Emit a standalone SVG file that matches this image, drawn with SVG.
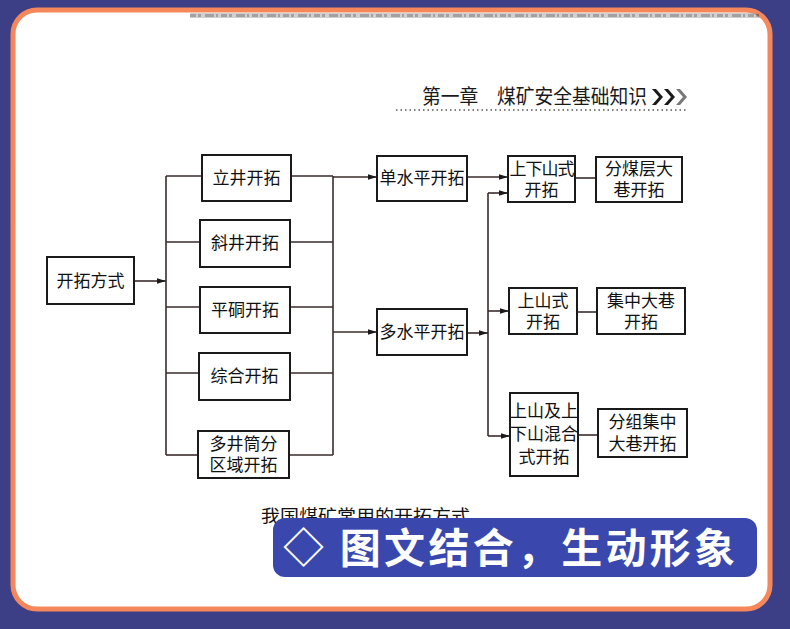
<svg xmlns="http://www.w3.org/2000/svg" width="790" height="629" viewBox="0 0 790 629">
<defs>
<style>
.box{fill:#fff;stroke:#1a1a1a;stroke-width:2}
.ln{fill:none;stroke:#3a2b2b;stroke-width:1.6}
.t{font-family:"Noto Sans CJK SC","Noto Sans CJK TC",sans-serif;font-size:17px;fill:#111;text-anchor:middle}
</style>
<marker id="ah" markerWidth="10" markerHeight="8" refX="9" refY="4" orient="auto" markerUnits="userSpaceOnUse">
<path d="M0,1.2 L9,4 L0,6.8 Z" fill="#1a1a1a"/>
</marker>
</defs>
<rect x="0" y="0" width="790" height="629" fill="#3d3f86"/>
<rect x="13" y="10" width="757" height="599" rx="24" fill="#fff" stroke="#f5875a" stroke-width="5"/>
<g id="scan-noise" opacity="0.45">
<rect x="190" y="13" width="570" height="5" fill="#999"/>
<line x1="190" y1="15.5" x2="760" y2="15.5" stroke="#333" stroke-width="3" stroke-dasharray="6 2 3 4 9 2 2 3"/>
</g>
<g id="header">
<text x="422" y="104" style="font-family:'Noto Sans CJK SC',sans-serif;font-size:20px;fill:#1a1a1a" textLength="225" lengthAdjust="spacingAndGlyphs">第一章　煤矿安全基础知识</text>
<path d="M652,89 L659,97 L652,105 L656,105 L663,97 L656,89 Z" fill="#1a1a1a"/>
<path d="M664,89 L671,97 L664,105 L668,105 L675,97 L668,89 Z" fill="#1a1a1a"/>
<path d="M676,89 L683,97 L676,105 L680,105 L687,97 L680,89 Z" fill="#777"/>
<line x1="396" y1="110" x2="688" y2="110" stroke="#555" stroke-width="1.5" stroke-dasharray="1.5 3"/>
</g>
<g id="connectors">
<line class="ln" x1="134" y1="281" x2="166" y2="281" marker-end="url(#ah)"/>
<line class="ln" x1="166" y1="176" x2="166" y2="455"/>
<line class="ln" x1="166" y1="176" x2="202" y2="176"/>
<line class="ln" x1="166" y1="242" x2="200" y2="242"/>
<line class="ln" x1="166" y1="307" x2="200" y2="307"/>
<line class="ln" x1="166" y1="373" x2="199" y2="373"/>
<line class="ln" x1="166" y1="455" x2="198" y2="455"/>
<line class="ln" x1="291" y1="176" x2="333" y2="176"/>
<line class="ln" x1="290" y1="242" x2="333" y2="242"/>
<line class="ln" x1="290" y1="307" x2="333" y2="307"/>
<line class="ln" x1="290" y1="373" x2="333" y2="373"/>
<line class="ln" x1="289" y1="455" x2="333" y2="455"/>
<line class="ln" x1="333" y1="176" x2="333" y2="455"/>
<line class="ln" x1="333" y1="177" x2="377" y2="177" marker-end="url(#ah)"/>
<line class="ln" x1="333" y1="332" x2="377" y2="332" marker-end="url(#ah)"/>
<line class="ln" x1="467" y1="177" x2="508" y2="177" marker-end="url(#ah)"/>
<line class="ln" x1="467" y1="333" x2="488" y2="333" marker-end="url(#ah)"/>
<line class="ln" x1="488" y1="193" x2="488" y2="436"/>
<line class="ln" x1="488" y1="193" x2="508" y2="193" marker-end="url(#ah)"/>
<line class="ln" x1="488" y1="311" x2="509" y2="311" marker-end="url(#ah)"/>
<line class="ln" x1="488" y1="436" x2="510" y2="436" marker-end="url(#ah)"/>
<line class="ln" x1="575" y1="178" x2="596" y2="178"/>
<line class="ln" x1="577" y1="312" x2="597" y2="312"/>
<line class="ln" x1="578" y1="435" x2="598" y2="435"/>
</g>
<g id="n-kaituofangshi"><rect class="box" x="47" y="257" width="87" height="47"/><text class="t" x="90.5" y="287">开拓方式</text></g>
<g id="n-lijing"><rect class="box" x="202" y="155" width="89" height="46"/><text class="t" x="246.5" y="184">立井开拓</text></g>
<g id="n-xiejing"><rect class="box" x="200" y="220" width="90" height="47"/><text class="t" x="245" y="249">斜井开拓</text></g>
<g id="n-pingdong"><rect class="box" x="200" y="287" width="90" height="46"/><text class="t" x="245" y="316">平硐开拓</text></g>
<g id="n-zonghe"><rect class="box" x="199" y="353" width="91" height="47"/><text class="t" x="244.5" y="382">综合开拓</text></g>
<g id="n-duojing"><rect class="box" x="198" y="431" width="91" height="47"/><text class="t"><tspan x="243.5" y="450">多井筒分</tspan><tspan x="243.5" y="471">区域开拓</tspan></text></g>
<g id="n-danshuiping"><rect class="box" x="377" y="156" width="90" height="45"/><text class="t" x="422" y="184">单水平开拓</text></g>
<g id="n-duoshuiping"><rect class="box" x="377" y="309" width="90" height="46"/><text class="t" x="422" y="338">多水平开拓</text></g>
<g id="n-shangxiashan"><rect class="box" x="508" y="156" width="67" height="46"/><text class="t"><tspan x="541.5" y="175" style="letter-spacing:-1px">上下山式</tspan><tspan x="541.5" y="196">开拓</tspan></text></g>
<g id="n-shangshan"><rect class="box" x="509" y="288" width="68" height="46"/><text class="t"><tspan x="543" y="307">上山式</tspan><tspan x="543" y="328">开拓</tspan></text></g>
<g id="n-hunhe"><rect class="box" x="510" y="393" width="68" height="83"/><text class="t"><tspan x="544" y="417">上山及上</tspan><tspan x="544" y="440">下山混合</tspan><tspan x="544" y="463">式开拓</tspan></text></g>
<g id="n-fenmeiceng"><rect class="box" x="596" y="157" width="86" height="45"/><text class="t"><tspan x="639" y="175">分煤层大</tspan><tspan x="639" y="196">巷开拓</tspan></text></g>
<g id="n-jizhong"><rect class="box" x="597" y="288" width="88" height="46"/><text class="t"><tspan x="641" y="307">集中大巷</tspan><tspan x="641" y="328">开拓</tspan></text></g>
<g id="n-fenzu"><rect class="box" x="598" y="409" width="89" height="48"/><text class="t"><tspan x="642.5" y="428">分组集中</tspan><tspan x="642.5" y="450">大巷开拓</tspan></text></g>
<text x="261" y="522" style="font-family:'Noto Sans CJK SC',serif;font-size:17px;fill:#111" textLength="209" lengthAdjust="spacingAndGlyphs">我国煤矿常用的开拓方式</text>
<g id="banner">
<rect x="273" y="518" width="484" height="59" rx="12" fill="#3a48ae"/>
<text x="283" y="563" style="font-family:'Noto Sans CJK SC',sans-serif;font-size:41px;font-weight:700;fill:#fff" textLength="452" lengthAdjust="spacing">◇ 图文结合，生动形象</text>
</g>
</svg>
